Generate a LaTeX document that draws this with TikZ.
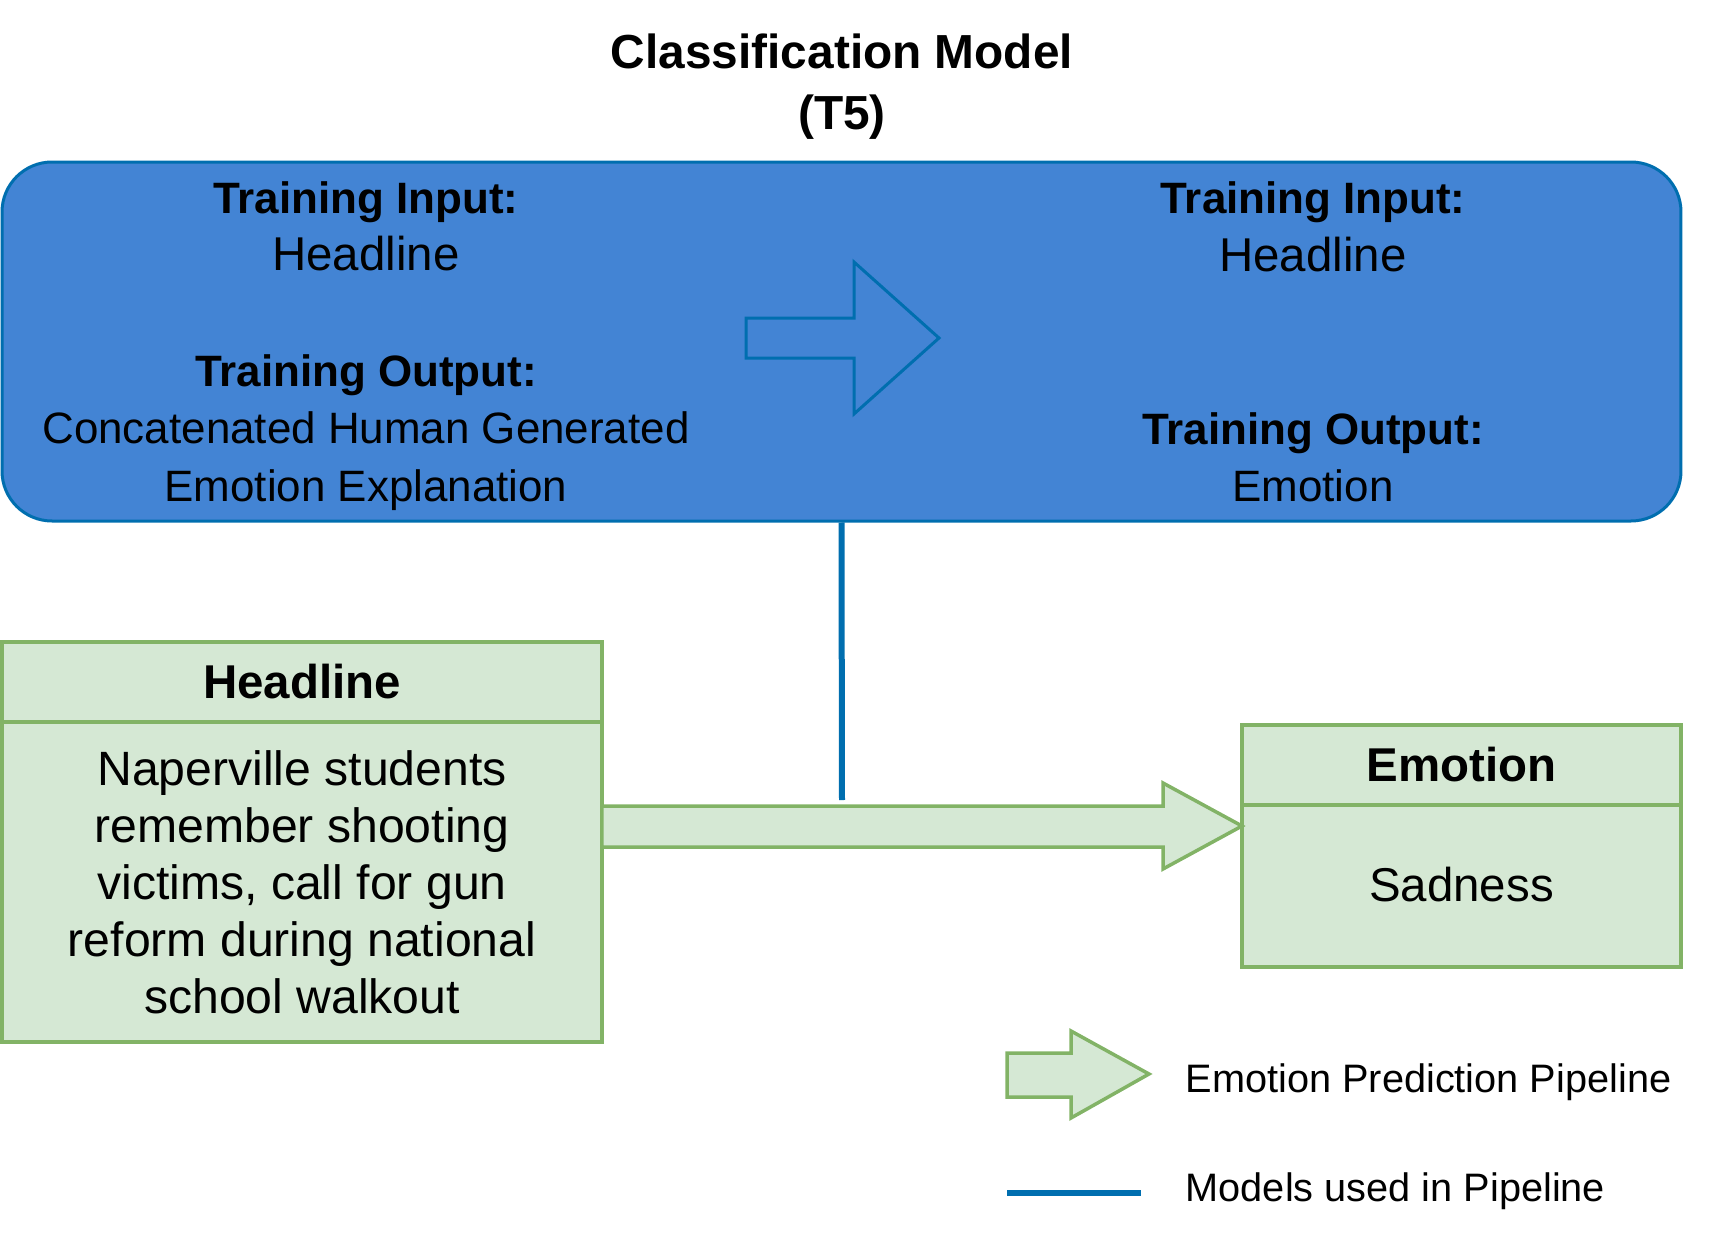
\documentclass[tikz,border=0pt]{standalone}
\usepackage{fontspec}
\setmainfont{Liberation Sans}
\usetikzlibrary{positioning, calc}

\definecolor{modelfill}{HTML}{4384D4}
\definecolor{modeledge}{HTML}{006EAF}
\definecolor{pipefill}{HTML}{D5E8D4}
\definecolor{pipeedge}{HTML}{82B366}

\begin{document}
\begin{tikzpicture}[x=0.1mm, y=-0.1mm,
  modelbox/.style={draw=modeledge, fill=modelfill, line width=0.3mm, rounded corners=5mm},
  traintext/.style={align=center, inner sep=0pt, font=\fontsize{12.5}{16.4}\selectfont},
  greenbox/.style={draw=pipeedge, fill=pipefill, line width=0.35mm, inner sep=0pt, outer sep=0pt, align=center},
  pipearrow/.style={draw=pipeedge, fill=pipefill, line width=0.35mm},
  modelline/.style={draw=modeledge, line width=0.6mm},
  legendtext/.style={inner sep=0pt, anchor=west, font=\fontsize{11.3}{14}\selectfont}]
\useasboundingbox (0,0) rectangle (1732,1240);

% title over the model
\node[align=center, font=\bfseries\fontsize{13.6}{17.3}\selectfont] (title) at (842,86.5) {Classification Model\\(T5)};

% the model with its two training stages
\node[modelbox, minimum width=167.9mm, minimum height=35.9mm] (model) at (841.5,341.5) {};
\node[traintext] (stageone) at (366,346) {\textbf{Training Input:}\\{\fontsize{13.5}{16.4}\selectfont Headline}\\~\\\textbf{Training Output:}\\Concatenated Human Generated\\Emotion Explanation};
\node[traintext] (stagetwo) at (1313,342) {\textbf{Training Input:}\\{\fontsize{13.5}{16.4}\selectfont Headline}\\~\\~\\\textbf{Training Output:}\\Emotion};

% hollow arrow from first stage to second
\draw[modeledge, line width=0.3mm, line join=miter] (746,318) -- (854,318) -- (854,262) -- (939,338) -- (854,414) -- (854,358) -- (746,358) -- cycle;

% headline input
\node[greenbox, minimum width=60mm, minimum height=8mm, font=\bfseries\fontsize{13.5}{16.2}\selectfont] (headtitle) at (302,682) {Headline};
\node[greenbox, minimum width=60mm, minimum height=32mm, below=0pt of headtitle, font=\fontsize{13.7}{16.2}\selectfont] (headline) {Naperville students\\remember shooting\\victims, call for gun\\reform during national\\school walkout};

% emotion output
\node[greenbox, minimum width=43.9mm, minimum height=8mm, font=\bfseries\fontsize{13.5}{16.2}\selectfont] (emotitle) at (1461.5,765) {Emotion};
\node[greenbox, minimum width=43.9mm, minimum height=16.2mm, below=0pt of emotitle, font=\fontsize{13.5}{16.2}\selectfont, text depth=1pt] (emotion) {Sadness};

% pipeline arrow from headline to emotion
\draw[pipearrow] (headline.east |- 0,806) -- (1163,806) -- (1163,783) -- (emotion.west |- 0,826) -- (1163,869) -- (1163,847) -- (headline.east |- 0,847) -- cycle;

% model feeding the pipeline
\coordinate (pipejoin) at (842,800);
\draw[modelline] (model.south) -- (pipejoin);

% legend
\draw[pipearrow] (1007,1053) -- (1071,1053) -- (1071,1031) -- (1149,1074) -- (1071,1118) -- (1071,1097) -- (1007,1097) -- cycle;
\node[legendtext] (legpipe) at (1185,1082.5) {Emotion Prediction Pipeline};
\coordinate (legstart) at (1007,1193);
\coordinate (legend) at (1141,1193);
\draw[modelline] (legstart) -- (legend);
\node[legendtext] (legmodel) at (1185,1191.5) {Models used in Pipeline};
\end{tikzpicture}
\end{document}
